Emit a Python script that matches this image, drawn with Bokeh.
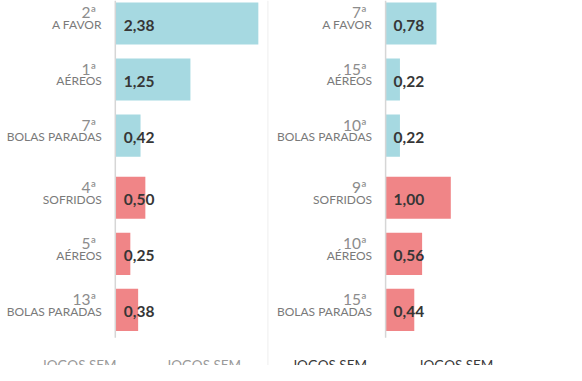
from bokeh.plotting import figure
from bokeh.models import Range1d, ColumnDataSource, Label, Span
from bokeh.core.properties import value
from bokeh.embed import file_html
from bokeh.resources import INLINE

# ---- data ----
categories = ["A FAVOR", "AÉREOS", "BOLAS PARADAS", "SOFRIDOS", "AÉREOS", "BOLAS PARADAS"]
groups = ["pro", "pro", "pro", "contra", "contra", "contra"]
left_values = [2.38, 1.25, 0.42, 0.50, 0.25, 0.38]
left_ranks = ["2ª", "1ª", "7ª", "4ª", "5ª", "13ª"]
right_values = [0.78, 0.22, 0.22, 1.00, 0.56, 0.44]
right_ranks = ["7ª", "15ª", "10ª", "9ª", "10ª", "15ª"]
bottom_labels = ["JOGOS SEM", "JOGOS SEM", "JOGOS SEM", "JOGOS SEM"]

# ---- layout ----
W, H = 566, 365
GROUP_GAP = 0.11
UNIT_PX = 56.05
color_map = {"pro": "#a6d9e1", "contra": "#f08587"}
FONT = value("Lato")

ys = []
for i, g in enumerate(groups):
    extra = GROUP_GAP if i >= groups.index("contra") else 0.0
    ys.append(-(i + extra))

Y_TOP = 0.410
Y_BOT = Y_TOP - H / UNIT_PX

def fmt(v):
    return f"{v:.2f}".replace(".", ",")

L0, LS = 114.8, 60.1   # left panel zero (px) and px per unit
R0, RS = 385.1, 65.2   # right panel zero (px) and px per unit

p = figure(width=W, height=H, output_backend="svg", toolbar_location=None,
           x_range=Range1d(-L0 / LS, (W - L0) / LS),
           y_range=Range1d(Y_BOT, Y_TOP),
           x_axis_location=None, y_axis_location=None,
           min_border=0, outline_line_color=None)
p.extra_x_ranges = {"r": Range1d(-R0 / RS, (W - R0) / RS)}
p.xgrid.visible = False
p.ygrid.visible = False
p.background_fill_color = "white"
p.border_fill_color = "white"

# separator between panels
p.add_layout(Span(location=(267.4 - L0) / LS, dimension="height",
                  line_color="#eeeeee", line_width=1))

colors = [color_map[g] for g in groups]

for vals, ranks, rname, voff in [(left_values, left_ranks, "default", 8.5),
                                 (right_values, right_ranks, "r", 8)]:
    src = ColumnDataSource(dict(y=ys, v=vals, c=colors, cat=categories,
                                rank=ranks, lab=[fmt(v) for v in vals],
                                z=[0] * len(vals)))
    p.hbar(y="y", left=0, right="v", height=0.752, fill_color="c",
           line_color=None, source=src, x_range_name=rname)
    # axis line
    p.segment(x0=0, x1=0, y0=Y_TOP, y1=min(ys) - 0.496, line_color="#d6d6d6",
              line_width=1.5, x_range_name=rname)
    # rank
    p.text(x="z", y="y", text="rank", source=src, x_range_name=rname,
           text_align="right", text_baseline="middle", x_offset=-19, y_offset=-11,
           text_font=FONT, text_font_size="15.5px", text_color="#8c8c8c")
    # category
    p.text(x="z", y="y", text="cat", source=src, x_range_name=rname,
           text_align="right", text_baseline="middle", x_offset=-13.5, y_offset=1.3,
           text_font=FONT, text_font_size="12px", text_color="#7a7a7a")
    # value
    p.text(x="z", y="y", text="lab", source=src, x_range_name=rname,
           text_align="left", text_baseline="middle", x_offset=voff, y_offset=1.9,
           text_font=FONT, text_font_style="bold", text_font_size="15.5px",
           text_color="#363636")

# bottom (cut-off) labels
bx = [78.3, 202.8, 328.7, 455.1]
bc = ["#9a9a9a", "#9a9a9a", "#3a3a3a", "#3a3a3a"]
for t, x, c in zip(bottom_labels, bx, bc):
    p.add_layout(Label(x=x, y=8.6, x_units="screen", y_units="screen",
                       text=t, text_align="center", text_baseline="top",
                       text_font="Lato", text_font_size="13.5px", text_color=c))

html = file_html(p, INLINE)
open("out.html", "w").write(html)
